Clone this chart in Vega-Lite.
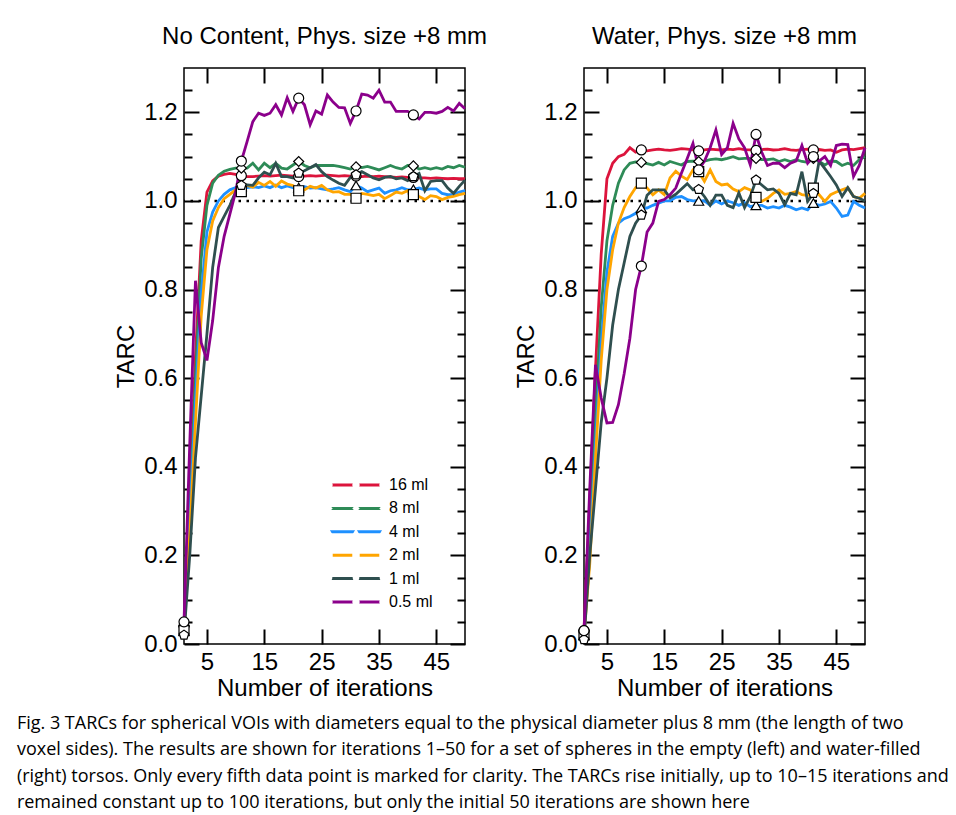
{
  "$schema": "https://vega.github.io/schema/vega-lite/v6.json",
  "autosize": {"type": "pad"},
  "padding": {"left": 16, "top": 24, "right": 2, "bottom": 0},
  "background": "white",
  "config": {
    "font": "Liberation Sans",
    "view": {"stroke": "black", "strokeWidth": 1.5},
    "axis": {"domain": false, "grid": false, "tickColor": "black", "tickWidth": 2, "labelColor": "black", "titleColor": "black", "labelFont": "Liberation Sans", "titleFont": "Liberation Sans", "labelFontSize": 24, "titleFontSize": 24, "titleFontWeight": "normal"},
    "title": {"font": "Liberation Sans", "fontSize": 24, "fontWeight": "normal", "color": "black", "anchor": "middle", "frame": "group", "baseline": "alphabetic", "offset": 18}
  },
  "title": {
    "text": [
      "Fig. 3 TARCs for spherical VOIs with diameters equal to the physical diameter plus 8 mm (the length of two",
      "voxel sides). The results are shown for iterations 1–50 for a set of spheres in the empty (left) and water-filled",
      "(right) torsos. Only every fifth data point is marked for clarity. The TARCs rise initially, up to 10–15 iterations and",
      "remained constant up to 100 iterations, but only the initial 50 iterations are shown here"
    ],
    "orient": "bottom", "anchor": "start", "frame": "bounds",
    "font": "Open Sans", "fontSize": 18, "fontWeight": "normal", "color": "black", "lineHeight": 26.5,
    "baseline": "top", "dx": -97, "offset": 14
  },
  "datasets": {
    "ref": [{"tarc": 1}],
    "noContent": [
      {"vol":"16 ml","it":1,"tarc":0.04},{"vol":"16 ml","it":2,"tarc":0.33},{"vol":"16 ml","it":3,"tarc":0.65},{"vol":"16 ml","it":4,"tarc":0.91},{"vol":"16 ml","it":5,"tarc":1.02},{"vol":"16 ml","it":6,"tarc":1.045},{"vol":"16 ml","it":7,"tarc":1.056},{"vol":"16 ml","it":8,"tarc":1.06},{"vol":"16 ml","it":9,"tarc":1.062},{"vol":"16 ml","it":10,"tarc":1.06},
      {"vol":"16 ml","it":11,"tarc":1.057},{"vol":"16 ml","it":12,"tarc":1.055},{"vol":"16 ml","it":13,"tarc":1.055},{"vol":"16 ml","it":14,"tarc":1.056},{"vol":"16 ml","it":15,"tarc":1.057},{"vol":"16 ml","it":16,"tarc":1.056},{"vol":"16 ml","it":17,"tarc":1.057},{"vol":"16 ml","it":18,"tarc":1.058},{"vol":"16 ml","it":19,"tarc":1.057},{"vol":"16 ml","it":20,"tarc":1.056},
      {"vol":"16 ml","it":21,"tarc":1.055},{"vol":"16 ml","it":22,"tarc":1.056},{"vol":"16 ml","it":23,"tarc":1.057},{"vol":"16 ml","it":24,"tarc":1.056},{"vol":"16 ml","it":25,"tarc":1.057},{"vol":"16 ml","it":26,"tarc":1.058},{"vol":"16 ml","it":27,"tarc":1.057},{"vol":"16 ml","it":28,"tarc":1.056},{"vol":"16 ml","it":29,"tarc":1.057},{"vol":"16 ml","it":30,"tarc":1.056},
      {"vol":"16 ml","it":31,"tarc":1.056},{"vol":"16 ml","it":32,"tarc":1.055},{"vol":"16 ml","it":33,"tarc":1.056},{"vol":"16 ml","it":34,"tarc":1.055},{"vol":"16 ml","it":35,"tarc":1.056},{"vol":"16 ml","it":36,"tarc":1.055},{"vol":"16 ml","it":37,"tarc":1.054},{"vol":"16 ml","it":38,"tarc":1.053},{"vol":"16 ml","it":39,"tarc":1.054},{"vol":"16 ml","it":40,"tarc":1.053},
      {"vol":"16 ml","it":41,"tarc":1.053},{"vol":"16 ml","it":42,"tarc":1.052},{"vol":"16 ml","it":43,"tarc":1.052},{"vol":"16 ml","it":44,"tarc":1.051},{"vol":"16 ml","it":45,"tarc":1.052},{"vol":"16 ml","it":46,"tarc":1.051},{"vol":"16 ml","it":47,"tarc":1.05},{"vol":"16 ml","it":48,"tarc":1.051},{"vol":"16 ml","it":49,"tarc":1.05},{"vol":"16 ml","it":50,"tarc":1.05},
      {"vol":"8 ml","it":1,"tarc":0.04},{"vol":"8 ml","it":2,"tarc":0.3},{"vol":"8 ml","it":3,"tarc":0.6},{"vol":"8 ml","it":4,"tarc":0.87},{"vol":"8 ml","it":5,"tarc":0.99},{"vol":"8 ml","it":6,"tarc":1.04},{"vol":"8 ml","it":7,"tarc":1.058},{"vol":"8 ml","it":8,"tarc":1.067},{"vol":"8 ml","it":9,"tarc":1.071},{"vol":"8 ml","it":10,"tarc":1.074},
      {"vol":"8 ml","it":11,"tarc":1.074},{"vol":"8 ml","it":12,"tarc":1.074},{"vol":"8 ml","it":13,"tarc":1.085},{"vol":"8 ml","it":14,"tarc":1.07},{"vol":"8 ml","it":15,"tarc":1.085},{"vol":"8 ml","it":16,"tarc":1.075},{"vol":"8 ml","it":17,"tarc":1.085},{"vol":"8 ml","it":18,"tarc":1.074},{"vol":"8 ml","it":19,"tarc":1.072},{"vol":"8 ml","it":20,"tarc":1.081},
      {"vol":"8 ml","it":21,"tarc":1.089},{"vol":"8 ml","it":22,"tarc":1.08},{"vol":"8 ml","it":23,"tarc":1.075},{"vol":"8 ml","it":24,"tarc":1.08},{"vol":"8 ml","it":25,"tarc":1.08},{"vol":"8 ml","it":26,"tarc":1.08},{"vol":"8 ml","it":27,"tarc":1.08},{"vol":"8 ml","it":28,"tarc":1.078},{"vol":"8 ml","it":29,"tarc":1.075},{"vol":"8 ml","it":30,"tarc":1.072},
      {"vol":"8 ml","it":31,"tarc":1.077},{"vol":"8 ml","it":32,"tarc":1.075},{"vol":"8 ml","it":33,"tarc":1.078},{"vol":"8 ml","it":34,"tarc":1.074},{"vol":"8 ml","it":35,"tarc":1.07},{"vol":"8 ml","it":36,"tarc":1.075},{"vol":"8 ml","it":37,"tarc":1.08},{"vol":"8 ml","it":38,"tarc":1.075},{"vol":"8 ml","it":39,"tarc":1.072},{"vol":"8 ml","it":40,"tarc":1.08},
      {"vol":"8 ml","it":41,"tarc":1.079},{"vol":"8 ml","it":42,"tarc":1.072},{"vol":"8 ml","it":43,"tarc":1.075},{"vol":"8 ml","it":44,"tarc":1.072},{"vol":"8 ml","it":45,"tarc":1.075},{"vol":"8 ml","it":46,"tarc":1.072},{"vol":"8 ml","it":47,"tarc":1.078},{"vol":"8 ml","it":48,"tarc":1.075},{"vol":"8 ml","it":49,"tarc":1.08},{"vol":"8 ml","it":50,"tarc":1.076},
      {"vol":"4 ml","it":1,"tarc":0.03},{"vol":"4 ml","it":2,"tarc":0.28},{"vol":"4 ml","it":3,"tarc":0.55},{"vol":"4 ml","it":4,"tarc":0.79},{"vol":"4 ml","it":5,"tarc":0.93},{"vol":"4 ml","it":6,"tarc":0.975},{"vol":"4 ml","it":7,"tarc":1.0},{"vol":"4 ml","it":8,"tarc":1.015},{"vol":"4 ml","it":9,"tarc":1.025},{"vol":"4 ml","it":10,"tarc":1.03},
      {"vol":"4 ml","it":11,"tarc":1.033},{"vol":"4 ml","it":12,"tarc":1.03},{"vol":"4 ml","it":13,"tarc":1.032},{"vol":"4 ml","it":14,"tarc":1.03},{"vol":"4 ml","it":15,"tarc":1.034},{"vol":"4 ml","it":16,"tarc":1.03},{"vol":"4 ml","it":17,"tarc":1.036},{"vol":"4 ml","it":18,"tarc":1.03},{"vol":"4 ml","it":19,"tarc":1.034},{"vol":"4 ml","it":20,"tarc":1.03},
      {"vol":"4 ml","it":21,"tarc":1.03},{"vol":"4 ml","it":22,"tarc":1.032},{"vol":"4 ml","it":23,"tarc":1.029},{"vol":"4 ml","it":24,"tarc":1.03},{"vol":"4 ml","it":25,"tarc":1.027},{"vol":"4 ml","it":26,"tarc":1.025},{"vol":"4 ml","it":27,"tarc":1.027},{"vol":"4 ml","it":28,"tarc":1.03},{"vol":"4 ml","it":29,"tarc":1.025},{"vol":"4 ml","it":30,"tarc":1.021},
      {"vol":"4 ml","it":31,"tarc":1.035},{"vol":"4 ml","it":32,"tarc":1.029},{"vol":"4 ml","it":33,"tarc":1.021},{"vol":"4 ml","it":34,"tarc":1.025},{"vol":"4 ml","it":35,"tarc":1.029},{"vol":"4 ml","it":36,"tarc":1.017},{"vol":"4 ml","it":37,"tarc":1.023},{"vol":"4 ml","it":38,"tarc":1.025},{"vol":"4 ml","it":39,"tarc":1.03},{"vol":"4 ml","it":40,"tarc":1.025},
      {"vol":"4 ml","it":41,"tarc":1.026},{"vol":"4 ml","it":42,"tarc":1.029},{"vol":"4 ml","it":43,"tarc":1.025},{"vol":"4 ml","it":44,"tarc":1.027},{"vol":"4 ml","it":45,"tarc":1.027},{"vol":"4 ml","it":46,"tarc":1.017},{"vol":"4 ml","it":47,"tarc":1.014},{"vol":"4 ml","it":48,"tarc":1.015},{"vol":"4 ml","it":49,"tarc":1.02},{"vol":"4 ml","it":50,"tarc":1.023},
      {"vol":"2 ml","it":1,"tarc":0.03},{"vol":"2 ml","it":2,"tarc":0.25},{"vol":"2 ml","it":3,"tarc":0.5},{"vol":"2 ml","it":4,"tarc":0.74},{"vol":"2 ml","it":5,"tarc":0.89},{"vol":"2 ml","it":6,"tarc":0.955},{"vol":"2 ml","it":7,"tarc":0.985},{"vol":"2 ml","it":8,"tarc":1.005},{"vol":"2 ml","it":9,"tarc":1.015},{"vol":"2 ml","it":10,"tarc":1.025},
      {"vol":"2 ml","it":11,"tarc":1.021},{"vol":"2 ml","it":12,"tarc":1.035},{"vol":"2 ml","it":13,"tarc":1.031},{"vol":"2 ml","it":14,"tarc":1.042},{"vol":"2 ml","it":15,"tarc":1.035},{"vol":"2 ml","it":16,"tarc":1.044},{"vol":"2 ml","it":17,"tarc":1.033},{"vol":"2 ml","it":18,"tarc":1.045},{"vol":"2 ml","it":19,"tarc":1.038},{"vol":"2 ml","it":20,"tarc":1.035},
      {"vol":"2 ml","it":21,"tarc":1.023},{"vol":"2 ml","it":22,"tarc":1.025},{"vol":"2 ml","it":23,"tarc":1.033},{"vol":"2 ml","it":24,"tarc":1.029},{"vol":"2 ml","it":25,"tarc":1.035},{"vol":"2 ml","it":26,"tarc":1.025},{"vol":"2 ml","it":27,"tarc":1.02},{"vol":"2 ml","it":28,"tarc":1.021},{"vol":"2 ml","it":29,"tarc":1.015},{"vol":"2 ml","it":30,"tarc":1.015},
      {"vol":"2 ml","it":31,"tarc":1.006},{"vol":"2 ml","it":32,"tarc":1.017},{"vol":"2 ml","it":33,"tarc":1.015},{"vol":"2 ml","it":34,"tarc":1.012},{"vol":"2 ml","it":35,"tarc":1.015},{"vol":"2 ml","it":36,"tarc":1.005},{"vol":"2 ml","it":37,"tarc":1.012},{"vol":"2 ml","it":38,"tarc":1.02},{"vol":"2 ml","it":39,"tarc":1.017},{"vol":"2 ml","it":40,"tarc":1.023},
      {"vol":"2 ml","it":41,"tarc":1.014},{"vol":"2 ml","it":42,"tarc":1.01},{"vol":"2 ml","it":43,"tarc":1.003},{"vol":"2 ml","it":44,"tarc":1.012},{"vol":"2 ml","it":45,"tarc":1.01},{"vol":"2 ml","it":46,"tarc":1.003},{"vol":"2 ml","it":47,"tarc":1.008},{"vol":"2 ml","it":48,"tarc":1.01},{"vol":"2 ml","it":49,"tarc":1.014},{"vol":"2 ml","it":50,"tarc":1.017},
      {"vol":"1 ml","it":1,"tarc":0.02},{"vol":"1 ml","it":2,"tarc":0.2},{"vol":"1 ml","it":3,"tarc":0.42},{"vol":"1 ml","it":4,"tarc":0.56},{"vol":"1 ml","it":5,"tarc":0.7},{"vol":"1 ml","it":6,"tarc":0.85},{"vol":"1 ml","it":7,"tarc":0.94},{"vol":"1 ml","it":8,"tarc":0.965},{"vol":"1 ml","it":9,"tarc":0.99},{"vol":"1 ml","it":10,"tarc":1.02},
      {"vol":"1 ml","it":11,"tarc":1.035},{"vol":"1 ml","it":12,"tarc":1.036},{"vol":"1 ml","it":13,"tarc":1.035},{"vol":"1 ml","it":14,"tarc":1.052},{"vol":"1 ml","it":15,"tarc":1.065},{"vol":"1 ml","it":16,"tarc":1.059},{"vol":"1 ml","it":17,"tarc":1.085},{"vol":"1 ml","it":18,"tarc":1.055},{"vol":"1 ml","it":19,"tarc":1.055},{"vol":"1 ml","it":20,"tarc":1.052},
      {"vol":"1 ml","it":21,"tarc":1.063},{"vol":"1 ml","it":22,"tarc":1.068},{"vol":"1 ml","it":23,"tarc":1.075},{"vol":"1 ml","it":24,"tarc":1.082},{"vol":"1 ml","it":25,"tarc":1.066},{"vol":"1 ml","it":26,"tarc":1.055},{"vol":"1 ml","it":27,"tarc":1.047},{"vol":"1 ml","it":28,"tarc":1.04},{"vol":"1 ml","it":29,"tarc":1.035},{"vol":"1 ml","it":30,"tarc":1.053},
      {"vol":"1 ml","it":31,"tarc":1.059},{"vol":"1 ml","it":32,"tarc":1.066},{"vol":"1 ml","it":33,"tarc":1.059},{"vol":"1 ml","it":34,"tarc":1.052},{"vol":"1 ml","it":35,"tarc":1.048},{"vol":"1 ml","it":36,"tarc":1.053},{"vol":"1 ml","it":37,"tarc":1.055},{"vol":"1 ml","it":38,"tarc":1.05},{"vol":"1 ml","it":39,"tarc":1.052},{"vol":"1 ml","it":40,"tarc":1.046},
      {"vol":"1 ml","it":41,"tarc":1.055},{"vol":"1 ml","it":42,"tarc":1.062},{"vol":"1 ml","it":43,"tarc":1.023},{"vol":"1 ml","it":44,"tarc":1.044},{"vol":"1 ml","it":45,"tarc":1.046},{"vol":"1 ml","it":46,"tarc":1.046},{"vol":"1 ml","it":47,"tarc":1.029},{"vol":"1 ml","it":48,"tarc":1.017},{"vol":"1 ml","it":49,"tarc":1.033},{"vol":"1 ml","it":50,"tarc":1.047},
      {"vol":"0.5 ml","it":1,"tarc":0.05},{"vol":"0.5 ml","it":2,"tarc":0.45},{"vol":"0.5 ml","it":3,"tarc":0.82},{"vol":"0.5 ml","it":4,"tarc":0.68},{"vol":"0.5 ml","it":5,"tarc":0.64},{"vol":"0.5 ml","it":6,"tarc":0.73},{"vol":"0.5 ml","it":7,"tarc":0.85},{"vol":"0.5 ml","it":8,"tarc":0.92},{"vol":"0.5 ml","it":9,"tarc":0.97},{"vol":"0.5 ml","it":10,"tarc":1.02},
      {"vol":"0.5 ml","it":11,"tarc":1.09},{"vol":"0.5 ml","it":12,"tarc":1.134},{"vol":"0.5 ml","it":13,"tarc":1.179},{"vol":"0.5 ml","it":14,"tarc":1.198},{"vol":"0.5 ml","it":15,"tarc":1.193},{"vol":"0.5 ml","it":16,"tarc":1.198},{"vol":"0.5 ml","it":17,"tarc":1.217},{"vol":"0.5 ml","it":18,"tarc":1.194},{"vol":"0.5 ml","it":19,"tarc":1.233},{"vol":"0.5 ml","it":20,"tarc":1.202},
      {"vol":"0.5 ml","it":21,"tarc":1.232},{"vol":"0.5 ml","it":22,"tarc":1.217},{"vol":"0.5 ml","it":23,"tarc":1.172},{"vol":"0.5 ml","it":24,"tarc":1.203},{"vol":"0.5 ml","it":25,"tarc":1.196},{"vol":"0.5 ml","it":26,"tarc":1.239},{"vol":"0.5 ml","it":27,"tarc":1.223},{"vol":"0.5 ml","it":28,"tarc":1.211},{"vol":"0.5 ml","it":29,"tarc":1.21},{"vol":"0.5 ml","it":30,"tarc":1.175},
      {"vol":"0.5 ml","it":31,"tarc":1.203},{"vol":"0.5 ml","it":32,"tarc":1.241},{"vol":"0.5 ml","it":33,"tarc":1.239},{"vol":"0.5 ml","it":34,"tarc":1.232},{"vol":"0.5 ml","it":35,"tarc":1.25},{"vol":"0.5 ml","it":36,"tarc":1.223},{"vol":"0.5 ml","it":37,"tarc":1.223},{"vol":"0.5 ml","it":38,"tarc":1.202},{"vol":"0.5 ml","it":39,"tarc":1.202},{"vol":"0.5 ml","it":40,"tarc":1.202},
      {"vol":"0.5 ml","it":41,"tarc":1.194},{"vol":"0.5 ml","it":42,"tarc":1.185},{"vol":"0.5 ml","it":43,"tarc":1.2},{"vol":"0.5 ml","it":44,"tarc":1.2},{"vol":"0.5 ml","it":45,"tarc":1.198},{"vol":"0.5 ml","it":46,"tarc":1.202},{"vol":"0.5 ml","it":47,"tarc":1.211},{"vol":"0.5 ml","it":48,"tarc":1.203},{"vol":"0.5 ml","it":49,"tarc":1.22},{"vol":"0.5 ml","it":50,"tarc":1.208}
    ],
    "water": [
      {"vol":"16 ml","it":1,"tarc":0.03},{"vol":"16 ml","it":2,"tarc":0.32},{"vol":"16 ml","it":3,"tarc":0.62},{"vol":"16 ml","it":4,"tarc":0.88},{"vol":"16 ml","it":5,"tarc":1.05},{"vol":"16 ml","it":6,"tarc":1.085},{"vol":"16 ml","it":7,"tarc":1.1},{"vol":"16 ml","it":8,"tarc":1.105},{"vol":"16 ml","it":9,"tarc":1.12},{"vol":"16 ml","it":10,"tarc":1.11},
      {"vol":"16 ml","it":11,"tarc":1.115},{"vol":"16 ml","it":12,"tarc":1.113},{"vol":"16 ml","it":13,"tarc":1.115},{"vol":"16 ml","it":14,"tarc":1.117},{"vol":"16 ml","it":15,"tarc":1.115},{"vol":"16 ml","it":16,"tarc":1.114},{"vol":"16 ml","it":17,"tarc":1.116},{"vol":"16 ml","it":18,"tarc":1.118},{"vol":"16 ml","it":19,"tarc":1.117},{"vol":"16 ml","it":20,"tarc":1.115},
      {"vol":"16 ml","it":21,"tarc":1.113},{"vol":"16 ml","it":22,"tarc":1.115},{"vol":"16 ml","it":23,"tarc":1.117},{"vol":"16 ml","it":24,"tarc":1.116},{"vol":"16 ml","it":25,"tarc":1.115},{"vol":"16 ml","it":26,"tarc":1.117},{"vol":"16 ml","it":27,"tarc":1.116},{"vol":"16 ml","it":28,"tarc":1.118},{"vol":"16 ml","it":29,"tarc":1.116},{"vol":"16 ml","it":30,"tarc":1.115},
      {"vol":"16 ml","it":31,"tarc":1.114},{"vol":"16 ml","it":32,"tarc":1.116},{"vol":"16 ml","it":33,"tarc":1.117},{"vol":"16 ml","it":34,"tarc":1.115},{"vol":"16 ml","it":35,"tarc":1.116},{"vol":"16 ml","it":36,"tarc":1.118},{"vol":"16 ml","it":37,"tarc":1.115},{"vol":"16 ml","it":38,"tarc":1.114},{"vol":"16 ml","it":39,"tarc":1.116},{"vol":"16 ml","it":40,"tarc":1.117},
      {"vol":"16 ml","it":41,"tarc":1.115},{"vol":"16 ml","it":42,"tarc":1.116},{"vol":"16 ml","it":43,"tarc":1.114},{"vol":"16 ml","it":44,"tarc":1.115},{"vol":"16 ml","it":45,"tarc":1.11},{"vol":"16 ml","it":46,"tarc":1.115},{"vol":"16 ml","it":47,"tarc":1.117},{"vol":"16 ml","it":48,"tarc":1.116},{"vol":"16 ml","it":49,"tarc":1.118},{"vol":"16 ml","it":50,"tarc":1.12},
      {"vol":"8 ml","it":1,"tarc":0.03},{"vol":"8 ml","it":2,"tarc":0.26},{"vol":"8 ml","it":3,"tarc":0.52},{"vol":"8 ml","it":4,"tarc":0.76},{"vol":"8 ml","it":5,"tarc":0.91},{"vol":"8 ml","it":6,"tarc":0.99},{"vol":"8 ml","it":7,"tarc":1.04},{"vol":"8 ml","it":8,"tarc":1.07},{"vol":"8 ml","it":9,"tarc":1.085},{"vol":"8 ml","it":10,"tarc":1.088},
      {"vol":"8 ml","it":11,"tarc":1.087},{"vol":"8 ml","it":12,"tarc":1.084},{"vol":"8 ml","it":13,"tarc":1.081},{"vol":"8 ml","it":14,"tarc":1.087},{"vol":"8 ml","it":15,"tarc":1.081},{"vol":"8 ml","it":16,"tarc":1.089},{"vol":"8 ml","it":17,"tarc":1.085},{"vol":"8 ml","it":18,"tarc":1.081},{"vol":"8 ml","it":19,"tarc":1.089},{"vol":"8 ml","it":20,"tarc":1.09},
      {"vol":"8 ml","it":21,"tarc":1.089},{"vol":"8 ml","it":22,"tarc":1.09},{"vol":"8 ml","it":23,"tarc":1.093},{"vol":"8 ml","it":24,"tarc":1.095},{"vol":"8 ml","it":25,"tarc":1.093},{"vol":"8 ml","it":26,"tarc":1.096},{"vol":"8 ml","it":27,"tarc":1.1},{"vol":"8 ml","it":28,"tarc":1.095},{"vol":"8 ml","it":29,"tarc":1.096},{"vol":"8 ml","it":30,"tarc":1.096},
      {"vol":"8 ml","it":31,"tarc":1.096},{"vol":"8 ml","it":32,"tarc":1.093},{"vol":"8 ml","it":33,"tarc":1.093},{"vol":"8 ml","it":34,"tarc":1.095},{"vol":"8 ml","it":35,"tarc":1.089},{"vol":"8 ml","it":36,"tarc":1.093},{"vol":"8 ml","it":37,"tarc":1.089},{"vol":"8 ml","it":38,"tarc":1.093},{"vol":"8 ml","it":39,"tarc":1.089},{"vol":"8 ml","it":40,"tarc":1.087},
      {"vol":"8 ml","it":41,"tarc":1.096},{"vol":"8 ml","it":42,"tarc":1.089},{"vol":"8 ml","it":43,"tarc":1.081},{"vol":"8 ml","it":44,"tarc":1.09},{"vol":"8 ml","it":45,"tarc":1.089},{"vol":"8 ml","it":46,"tarc":1.08},{"vol":"8 ml","it":47,"tarc":1.085},{"vol":"8 ml","it":48,"tarc":1.08},{"vol":"8 ml","it":49,"tarc":1.093},{"vol":"8 ml","it":50,"tarc":1.1},
      {"vol":"4 ml","it":1,"tarc":0.02},{"vol":"4 ml","it":2,"tarc":0.2},{"vol":"4 ml","it":3,"tarc":0.45},{"vol":"4 ml","it":4,"tarc":0.68},{"vol":"4 ml","it":5,"tarc":0.84},{"vol":"4 ml","it":6,"tarc":0.92},{"vol":"4 ml","it":7,"tarc":0.95},{"vol":"4 ml","it":8,"tarc":0.96},{"vol":"4 ml","it":9,"tarc":0.965},{"vol":"4 ml","it":10,"tarc":0.972},
      {"vol":"4 ml","it":11,"tarc":0.984},{"vol":"4 ml","it":12,"tarc":0.984},{"vol":"4 ml","it":13,"tarc":0.99},{"vol":"4 ml","it":14,"tarc":0.995},{"vol":"4 ml","it":15,"tarc":1.0},{"vol":"4 ml","it":16,"tarc":1.0},{"vol":"4 ml","it":17,"tarc":1.008},{"vol":"4 ml","it":18,"tarc":1.01},{"vol":"4 ml","it":19,"tarc":1.003},{"vol":"4 ml","it":20,"tarc":1.0},
      {"vol":"4 ml","it":21,"tarc":1.0},{"vol":"4 ml","it":22,"tarc":1.0},{"vol":"4 ml","it":23,"tarc":0.99},{"vol":"4 ml","it":24,"tarc":1.0},{"vol":"4 ml","it":25,"tarc":0.993},{"vol":"4 ml","it":26,"tarc":1.0},{"vol":"4 ml","it":27,"tarc":0.996},{"vol":"4 ml","it":28,"tarc":0.99},{"vol":"4 ml","it":29,"tarc":0.996},{"vol":"4 ml","it":30,"tarc":0.987},
      {"vol":"4 ml","it":31,"tarc":0.99},{"vol":"4 ml","it":32,"tarc":0.99},{"vol":"4 ml","it":33,"tarc":0.984},{"vol":"4 ml","it":34,"tarc":0.987},{"vol":"4 ml","it":35,"tarc":0.984},{"vol":"4 ml","it":36,"tarc":0.99},{"vol":"4 ml","it":37,"tarc":0.986},{"vol":"4 ml","it":38,"tarc":0.98},{"vol":"4 ml","it":39,"tarc":0.984},{"vol":"4 ml","it":40,"tarc":0.98},
      {"vol":"4 ml","it":41,"tarc":0.995},{"vol":"4 ml","it":42,"tarc":0.99},{"vol":"4 ml","it":43,"tarc":0.993},{"vol":"4 ml","it":44,"tarc":0.999},{"vol":"4 ml","it":45,"tarc":0.984},{"vol":"4 ml","it":46,"tarc":0.965},{"vol":"4 ml","it":47,"tarc":0.968},{"vol":"4 ml","it":48,"tarc":0.999},{"vol":"4 ml","it":49,"tarc":0.99},{"vol":"4 ml","it":50,"tarc":0.984},
      {"vol":"2 ml","it":1,"tarc":0.02},{"vol":"2 ml","it":2,"tarc":0.18},{"vol":"2 ml","it":3,"tarc":0.42},{"vol":"2 ml","it":4,"tarc":0.64},{"vol":"2 ml","it":5,"tarc":0.8},{"vol":"2 ml","it":6,"tarc":0.89},{"vol":"2 ml","it":7,"tarc":0.95},{"vol":"2 ml","it":8,"tarc":0.985},{"vol":"2 ml","it":9,"tarc":1.01},{"vol":"2 ml","it":10,"tarc":1.03},
      {"vol":"2 ml","it":11,"tarc":1.04},{"vol":"2 ml","it":12,"tarc":1.029},{"vol":"2 ml","it":13,"tarc":1.014},{"vol":"2 ml","it":14,"tarc":1.025},{"vol":"2 ml","it":15,"tarc":1.014},{"vol":"2 ml","it":16,"tarc":1.052},{"vol":"2 ml","it":17,"tarc":1.067},{"vol":"2 ml","it":18,"tarc":1.056},{"vol":"2 ml","it":19,"tarc":1.048},{"vol":"2 ml","it":20,"tarc":1.07},
      {"vol":"2 ml","it":21,"tarc":1.066},{"vol":"2 ml","it":22,"tarc":1.044},{"vol":"2 ml","it":23,"tarc":1.07},{"vol":"2 ml","it":24,"tarc":1.044},{"vol":"2 ml","it":25,"tarc":1.036},{"vol":"2 ml","it":26,"tarc":1.038},{"vol":"2 ml","it":27,"tarc":1.027},{"vol":"2 ml","it":28,"tarc":1.021},{"vol":"2 ml","it":29,"tarc":1.03},{"vol":"2 ml","it":30,"tarc":1.025},
      {"vol":"2 ml","it":31,"tarc":1.008},{"vol":"2 ml","it":32,"tarc":0.999},{"vol":"2 ml","it":33,"tarc":1.006},{"vol":"2 ml","it":34,"tarc":1.017},{"vol":"2 ml","it":35,"tarc":1.025},{"vol":"2 ml","it":36,"tarc":1.015},{"vol":"2 ml","it":37,"tarc":1.017},{"vol":"2 ml","it":38,"tarc":1.021},{"vol":"2 ml","it":39,"tarc":1.014},{"vol":"2 ml","it":40,"tarc":1.012},
      {"vol":"2 ml","it":41,"tarc":1.029},{"vol":"2 ml","it":42,"tarc":1.014},{"vol":"2 ml","it":43,"tarc":0.999},{"vol":"2 ml","it":44,"tarc":1.014},{"vol":"2 ml","it":45,"tarc":1.02},{"vol":"2 ml","it":46,"tarc":1.025},{"vol":"2 ml","it":47,"tarc":1.03},{"vol":"2 ml","it":48,"tarc":1.01},{"vol":"2 ml","it":49,"tarc":1.006},{"vol":"2 ml","it":50,"tarc":1.017},
      {"vol":"1 ml","it":1,"tarc":0.01},{"vol":"1 ml","it":2,"tarc":0.2},{"vol":"1 ml","it":3,"tarc":0.35},{"vol":"1 ml","it":4,"tarc":0.5},{"vol":"1 ml","it":5,"tarc":0.6},{"vol":"1 ml","it":6,"tarc":0.72},{"vol":"1 ml","it":7,"tarc":0.8},{"vol":"1 ml","it":8,"tarc":0.86},{"vol":"1 ml","it":9,"tarc":0.92},{"vol":"1 ml","it":10,"tarc":0.95},
      {"vol":"1 ml","it":11,"tarc":0.968},{"vol":"1 ml","it":12,"tarc":1.013},{"vol":"1 ml","it":13,"tarc":1.025},{"vol":"1 ml","it":14,"tarc":1.025},{"vol":"1 ml","it":15,"tarc":1.025},{"vol":"1 ml","it":16,"tarc":1.007},{"vol":"1 ml","it":17,"tarc":1.015},{"vol":"1 ml","it":18,"tarc":1.027},{"vol":"1 ml","it":19,"tarc":1.039},{"vol":"1 ml","it":20,"tarc":1.025},
      {"vol":"1 ml","it":21,"tarc":1.026},{"vol":"1 ml","it":22,"tarc":1.01},{"vol":"1 ml","it":23,"tarc":0.99},{"vol":"1 ml","it":24,"tarc":1.013},{"vol":"1 ml","it":25,"tarc":1.013},{"vol":"1 ml","it":26,"tarc":0.99},{"vol":"1 ml","it":27,"tarc":0.985},{"vol":"1 ml","it":28,"tarc":1.018},{"vol":"1 ml","it":29,"tarc":0.985},{"vol":"1 ml","it":30,"tarc":1.01},
      {"vol":"1 ml","it":31,"tarc":1.047},{"vol":"1 ml","it":32,"tarc":1.036},{"vol":"1 ml","it":33,"tarc":1.025},{"vol":"1 ml","it":34,"tarc":1.027},{"vol":"1 ml","it":35,"tarc":1.017},{"vol":"1 ml","it":36,"tarc":0.991},{"vol":"1 ml","it":37,"tarc":1.017},{"vol":"1 ml","it":38,"tarc":1.014},{"vol":"1 ml","it":39,"tarc":1.066},{"vol":"1 ml","it":40,"tarc":0.999},
      {"vol":"1 ml","it":41,"tarc":1.017},{"vol":"1 ml","it":42,"tarc":1.09},{"vol":"1 ml","it":43,"tarc":1.073},{"vol":"1 ml","it":44,"tarc":1.055},{"vol":"1 ml","it":45,"tarc":1.036},{"vol":"1 ml","it":46,"tarc":1.01},{"vol":"1 ml","it":47,"tarc":1.03},{"vol":"1 ml","it":48,"tarc":1.01},{"vol":"1 ml","it":49,"tarc":1.006},{"vol":"1 ml","it":50,"tarc":1.0},
      {"vol":"0.5 ml","it":1,"tarc":0.03},{"vol":"0.5 ml","it":2,"tarc":0.35},{"vol":"0.5 ml","it":3,"tarc":0.63},{"vol":"0.5 ml","it":4,"tarc":0.555},{"vol":"0.5 ml","it":5,"tarc":0.499},{"vol":"0.5 ml","it":6,"tarc":0.5},{"vol":"0.5 ml","it":7,"tarc":0.54},{"vol":"0.5 ml","it":8,"tarc":0.61},{"vol":"0.5 ml","it":9,"tarc":0.69},{"vol":"0.5 ml","it":10,"tarc":0.8},
      {"vol":"0.5 ml","it":11,"tarc":0.853},{"vol":"0.5 ml","it":12,"tarc":0.93},{"vol":"0.5 ml","it":13,"tarc":0.95},{"vol":"0.5 ml","it":14,"tarc":0.999},{"vol":"0.5 ml","it":15,"tarc":1.003},{"vol":"0.5 ml","it":16,"tarc":1.014},{"vol":"0.5 ml","it":17,"tarc":1.029},{"vol":"0.5 ml","it":18,"tarc":1.063},{"vol":"0.5 ml","it":19,"tarc":1.096},{"vol":"0.5 ml","it":20,"tarc":1.13},
      {"vol":"0.5 ml","it":21,"tarc":1.07},{"vol":"0.5 ml","it":22,"tarc":1.09},{"vol":"0.5 ml","it":23,"tarc":1.12},{"vol":"0.5 ml","it":24,"tarc":1.16},{"vol":"0.5 ml","it":25,"tarc":1.105},{"vol":"0.5 ml","it":26,"tarc":1.12},{"vol":"0.5 ml","it":27,"tarc":1.175},{"vol":"0.5 ml","it":28,"tarc":1.14},{"vol":"0.5 ml","it":29,"tarc":1.12},{"vol":"0.5 ml","it":30,"tarc":1.081},
      {"vol":"0.5 ml","it":31,"tarc":1.15},{"vol":"0.5 ml","it":32,"tarc":1.11},{"vol":"0.5 ml","it":33,"tarc":1.08},{"vol":"0.5 ml","it":34,"tarc":1.085},{"vol":"0.5 ml","it":35,"tarc":1.085},{"vol":"0.5 ml","it":36,"tarc":1.075},{"vol":"0.5 ml","it":37,"tarc":1.085},{"vol":"0.5 ml","it":38,"tarc":1.09},{"vol":"0.5 ml","it":39,"tarc":1.125},{"vol":"0.5 ml","it":40,"tarc":1.085},
      {"vol":"0.5 ml","it":41,"tarc":1.1},{"vol":"0.5 ml","it":42,"tarc":1.09},{"vol":"0.5 ml","it":43,"tarc":1.1},{"vol":"0.5 ml","it":44,"tarc":1.08},{"vol":"0.5 ml","it":45,"tarc":1.125},{"vol":"0.5 ml","it":46,"tarc":1.128},{"vol":"0.5 ml","it":47,"tarc":1.127},{"vol":"0.5 ml","it":48,"tarc":1.055},{"vol":"0.5 ml","it":49,"tarc":1.08},{"vol":"0.5 ml","it":50,"tarc":1.12}
    ]
  },
  "spacing": 25,
  "resolve": {"scale": {"color": "independent", "shape": "independent"}, "legend": {"color": "independent", "shape": "independent"}},
  "hconcat": [
    {
      "width": 281, "height": 576,
      "title": {"text": "No Content, Phys. size +8 mm"},
      "resolve": {"scale": {"shape": "independent"}, "axis": {"x": "independent", "y": "independent"}},
      "layer": [
        {
          "data": {"name": "ref"},
          "mark": {"type": "rule", "color": "black", "strokeWidth": 2.5, "strokeDash": [2.5, 5.5]},
          "encoding": {
            "y": {"field": "tarc", "type": "quantitative", "scale": {"domain": [0, 1.3]},
              "axis": {"orient": "right", "values": [0,0.05,0.1,0.15,0.2,0.25,0.3,0.35,0.4,0.45,0.5,0.55,0.6,0.65,0.7,0.75,0.8,0.85,0.9,0.95,1,1.05,1.1,1.15,1.2,1.25], "tickSize": {"condition": {"test": "abs(datum.value*5-round(datum.value*5))<0.01", "value": -15}, "value": -8}, "labels": false, "title": null}}
          }
        },
        {
          "data": {"name": "noContent"},
          "mark": {"type": "line", "strokeWidth": 2.8},
          "encoding": {
            "x": {"field": "it", "type": "quantitative", "scale": {"domain": [1, 50]},
              "axis": {"orient": "bottom", "values": [5,15,25,35,45], "tickSize": -15, "labelPadding": 21, "title": "Number of iterations", "titlePadding": 2}},
            "y": {"field": "tarc", "type": "quantitative", "scale": {"domain": [0, 1.3]},
              "axis": {"orient": "left", "values": [0,0.05,0.1,0.15,0.2,0.25,0.3,0.35,0.4,0.45,0.5,0.55,0.6,0.65,0.7,0.75,0.8,0.85,0.9,0.95,1,1.05,1.1,1.15,1.2,1.25], "tickSize": {"condition": {"test": "abs(datum.value*5-round(datum.value*5))<0.01", "value": -15}, "value": -8}, "labelExpr": "abs(datum.value*5-round(datum.value*5))<0.01 ? format(datum.value, '.1f') : ''", "labelPadding": 22, "title": "TARC", "titlePadding": 5}},
            "color": {"field": "vol", "type": "nominal", "sort": ["16 ml","8 ml","4 ml","2 ml","1 ml","0.5 ml"],
              "scale": {"range": ["#DC143C","#2E8B57","#1E90FF","#FFA500","#2F4F4F","#8B008B"]},
              "legend": {"orient": "none", "legendX": 136, "legendY": 409, "title": null, "padding": 0, "symbolType": "M0,0H14.56", "symbolSize": 55, "symbolStrokeWidth": 3, "labelFont": "Liberation Sans", "labelFontSize": 16, "labelColor": "black", "labelOffset": 53, "rowPadding": 7.4}}
          }
        },
        {
          "data": {"name": "noContent"},
          "transform": [{"filter": {"field": "it", "oneOf": [1, 11, 21, 31, 41]}}],
          "mark": {"type": "point", "filled": true, "fill": "white", "stroke": "black", "strokeWidth": 1.2, "size": 100, "opacity": 1},
          "encoding": {
            "x": {"field": "it", "type": "quantitative", "scale": {"domain": [1, 50]},
              "axis": {"orient": "top", "values": [5,15,25,35,45], "tickSize": -15, "labels": false, "title": null}},
            "y": {"field": "tarc", "type": "quantitative", "scale": {"domain": [0, 1.3]}, "axis": null},
            "shape": {"field": "vol", "type": "nominal",
              "scale": {"domain": ["16 ml","8 ml","4 ml","2 ml","1 ml","0.5 ml"], "range": ["circle","diamond","triangle-up","square","M0,-1L0.951,-0.309L0.588,0.809L-0.588,0.809L-0.951,-0.309Z","circle"]},
              "legend": null}
          }
        },
        {
          "data": {"name": "noContent"},
          "transform": [{"filter": {"field": "it", "gt": 999}}],
          "mark": {"type": "point", "filled": true, "fill": "white", "stroke": "black", "strokeWidth": 1.2, "opacity": 1},
          "encoding": {
            "x": {"field": "it", "type": "quantitative", "scale": {"domain": [1, 50]}, "axis": null},
            "y": {"field": "tarc", "type": "quantitative", "scale": {"domain": [0, 1.3]}, "axis": null},
            "shape": {"field": "vol", "type": "nominal",
              "scale": {"domain": ["16 ml","8 ml","4 ml","2 ml","1 ml","0.5 ml"], "range": [
                "M1,0A1,1,0,1,1,-1,0A1,1,0,1,1,1,0ZM8.28,0A1,1,0,1,1,6.28,0A1,1,0,1,1,8.28,0ZM15.56,0A1,1,0,1,1,13.56,0A1,1,0,1,1,15.56,0Z",
                "M-1,0L0,-1L1,0L0,1ZM6.28,0L7.28,-1L8.28,0L7.28,1ZM13.56,0L14.56,-1L15.56,0L14.56,1Z",
                "M0,-0.87L-1,0.87L1,0.87ZM7.28,-0.87L6.28,0.87L8.28,0.87ZM14.56,-0.87L13.56,0.87L15.56,0.87Z",
                "M-1,-1H1V1H-1ZM6.28,-1H8.28V1H6.28ZM13.56,-1H15.56V1H13.56Z",
                "M0,-1L0.951,-0.309L0.588,0.809L-0.588,0.809L-0.951,-0.309ZM7.28,-1L8.231,-0.309L7.868,0.809L6.692,0.809L6.329,-0.309ZM14.56,-1L15.511,-0.309L15.148,0.809L13.972,0.809L13.609,-0.309Z",
                "M1,0A1,1,0,1,1,-1,0A1,1,0,1,1,1,0ZM8.28,0A1,1,0,1,1,6.28,0A1,1,0,1,1,8.28,0ZM15.56,0A1,1,0,1,1,13.56,0A1,1,0,1,1,15.56,0Z"
              ]},
              "legend": {"orient": "none", "legendX": 136, "legendY": 409, "title": null, "padding": 0, "symbolSize": 55, "symbolStrokeWidth": 1.2, "symbolFillColor": "white", "symbolStrokeColor": "black", "symbolOpacity": 1, "symbolOffset": 1, "labelOpacity": 0, "labelFont": "Liberation Sans", "labelFontSize": 16, "labelOffset": 53, "rowPadding": 7.4,
                "encode": {"symbols": {"update": {"stroke": {"value": "black"}, "strokeWidth": {"value": 1.2}, "fill": {"value": "white"}, "opacity": {"value": 1}, "strokeOpacity": {"value": 1}}}}}}
          }
        }
      ]
    },
    {
      "width": 281, "height": 576,
      "title": {"text": "Water, Phys. size +8 mm"},
      "resolve": {"axis": {"x": "independent", "y": "independent"}},
      "layer": [
        {
          "data": {"name": "ref"},
          "mark": {"type": "rule", "color": "black", "strokeWidth": 2.5, "strokeDash": [2.5, 5.5]},
          "encoding": {
            "y": {"field": "tarc", "type": "quantitative", "scale": {"domain": [0, 1.3]},
              "axis": {"orient": "right", "values": [0,0.05,0.1,0.15,0.2,0.25,0.3,0.35,0.4,0.45,0.5,0.55,0.6,0.65,0.7,0.75,0.8,0.85,0.9,0.95,1,1.05,1.1,1.15,1.2,1.25], "tickSize": {"condition": {"test": "abs(datum.value*5-round(datum.value*5))<0.01", "value": -15}, "value": -8}, "labels": false, "title": null}}
          }
        },
        {
          "data": {"name": "water"},
          "mark": {"type": "line", "strokeWidth": 2.8},
          "encoding": {
            "x": {"field": "it", "type": "quantitative", "scale": {"domain": [1, 50]},
              "axis": {"orient": "bottom", "values": [5,15,25,35,45], "tickSize": -15, "labelPadding": 21, "title": "Number of iterations", "titlePadding": 2}},
            "y": {"field": "tarc", "type": "quantitative", "scale": {"domain": [0, 1.3]},
              "axis": {"orient": "left", "values": [0,0.05,0.1,0.15,0.2,0.25,0.3,0.35,0.4,0.45,0.5,0.55,0.6,0.65,0.7,0.75,0.8,0.85,0.9,0.95,1,1.05,1.1,1.15,1.2,1.25], "tickSize": {"condition": {"test": "abs(datum.value*5-round(datum.value*5))<0.01", "value": -15}, "value": -8}, "labelExpr": "abs(datum.value*5-round(datum.value*5))<0.01 ? format(datum.value, '.1f') : ''", "labelPadding": 22, "title": "TARC", "titlePadding": 5}},
            "color": {"field": "vol", "type": "nominal",
              "scale": {"domain": ["16 ml","8 ml","4 ml","2 ml","1 ml","0.5 ml"], "range": ["#DC143C","#2E8B57","#1E90FF","#FFA500","#2F4F4F","#8B008B"]},
              "legend": null}
          }
        },
        {
          "data": {"name": "water"},
          "transform": [{"filter": {"field": "it", "oneOf": [1, 11, 21, 31, 41]}}],
          "mark": {"type": "point", "filled": true, "fill": "white", "stroke": "black", "strokeWidth": 1.2, "size": 100, "opacity": 1},
          "encoding": {
            "x": {"field": "it", "type": "quantitative", "scale": {"domain": [1, 50]},
              "axis": {"orient": "top", "values": [5,15,25,35,45], "tickSize": -15, "labels": false, "title": null}},
            "y": {"field": "tarc", "type": "quantitative", "scale": {"domain": [0, 1.3]}, "axis": null},
            "shape": {"field": "vol", "type": "nominal",
              "scale": {"domain": ["16 ml","8 ml","4 ml","2 ml","1 ml","0.5 ml"], "range": ["circle","diamond","triangle-up","square","M0,-1L0.951,-0.309L0.588,0.809L-0.588,0.809L-0.951,-0.309Z","circle"]},
              "legend": null}
          }
        }
      ]
    }
  ]
}
